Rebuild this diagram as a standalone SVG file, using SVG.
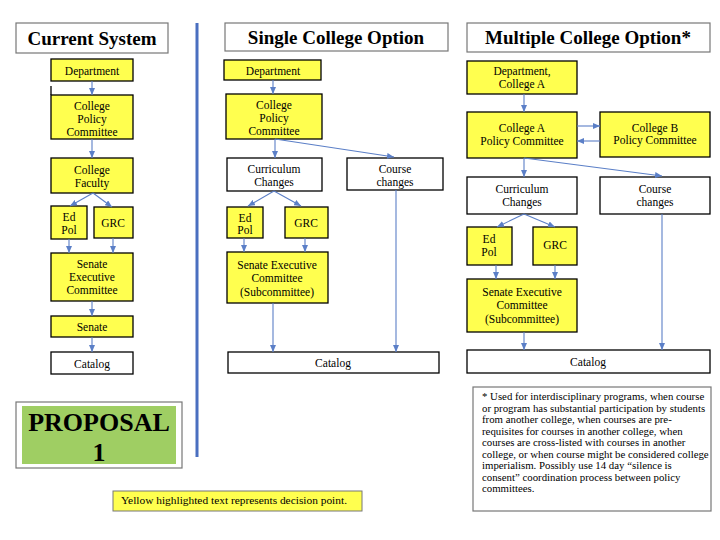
<svg xmlns="http://www.w3.org/2000/svg" width="720" height="540" viewBox="0 0 720 540">
<style>
text{font-family:"Liberation Serif","Times New Roman",serif;fill:#000}
.t{font-size:11.5px;text-anchor:middle}
.h{font-size:19px;font-weight:bold;text-anchor:middle}
.y{fill:#FFFF4F;stroke:#000;stroke-width:1.3}
.w{fill:#fff;stroke:#000;stroke-width:1.3}
.hb{fill:#fff;stroke:#777;stroke-width:1.2}
.c{stroke:#5B7FC7;stroke-width:1.1;fill:none;marker-end:url(#ah)}
.fn{font-size:10.8px}
</style>
<defs>
<marker id="ah" markerWidth="7" markerHeight="6" refX="7" refY="3" orient="auto" markerUnits="userSpaceOnUse">
<path d="M0,0 L7,3 L0,6 z" fill="#5B7FC7"/>
</marker>
<clipPath id="cp1"><rect x="51" y="95" width="82" height="44"/></clipPath>
<clipPath id="cp2"><rect x="226" y="94" width="96" height="45"/></clipPath>
</defs>
<rect width="720" height="540" fill="#fff"/>

<!-- divider -->
<line x1="197" y1="23" x2="197" y2="457" stroke="#4A6FC0" stroke-width="3"/>

<!-- Titles -->
<g id="title-current"><rect class="hb" x="16" y="23" width="152" height="30"/><text class="h" x="92" y="45">Current System</text></g>
<g id="title-single"><rect class="hb" x="225" y="23" width="223" height="28"/><text class="h" x="336" y="44">Single College Option</text></g>
<g id="title-multiple"><rect class="hb" x="467" y="23" width="243" height="29"/><text class="h" x="588" y="44">Multiple College Option*</text></g>

<!-- Current System -->
<g id="cs-dept"><rect class="y" x="51" y="59" width="82" height="22"/><text class="t" x="92" y="75">Department</text></g>
<g id="cs-cpc"><line x1="51" y1="86" x2="51" y2="95" stroke="#000" stroke-width="1.3"/><rect class="y" x="51" y="95" width="82" height="44"/><g clip-path="url(#cp1)"><text class="t" x="92" y="110">College</text><text class="t" x="92" y="123">Policy</text><text class="t" x="92" y="136">Committee</text></g></g>
<g id="cs-faculty"><rect class="y" x="51" y="158" width="82" height="35"/><text class="t" x="92" y="174">College</text><text class="t" x="92" y="187">Faculty</text></g>
<g id="cs-edpol"><rect class="y" x="51" y="206" width="36" height="33"/><text class="t" x="69" y="221">Ed</text><text class="t" x="69" y="234">Pol</text></g>
<g id="cs-grc"><rect class="y" x="94" y="207" width="39" height="31"/><text class="t" x="113" y="227">GRC</text></g>
<g id="cs-sec"><rect class="y" x="51" y="253" width="82" height="48"/><text class="t" x="92" y="268">Senate</text><text class="t" x="92" y="281">Executive</text><text class="t" x="92" y="294">Committee</text></g>
<g id="cs-senate"><rect class="y" x="51" y="316" width="82" height="21"/><text class="t" x="92" y="331">Senate</text></g>
<g id="cs-catalog"><rect class="w" x="51" y="352" width="82" height="22"/><text class="t" x="92" y="368">Catalog</text></g>

<!-- Single College Option -->
<g id="sc-dept"><rect class="y" x="224" y="60" width="97" height="20"/><text class="t" x="273" y="75">Department</text></g>
<g id="sc-cpc"><rect class="y" x="226" y="94" width="96" height="45"/><g clip-path="url(#cp2)"><text class="t" x="274" y="109">College</text><text class="t" x="274" y="122">Policy</text><text class="t" x="274" y="135">Committee</text></g></g>
<g id="sc-curr"><rect class="w" x="227" y="158" width="95" height="33"/><text class="t" x="274" y="173">Curriculum</text><text class="t" x="274" y="186">Changes</text></g>
<g id="sc-course"><rect class="w" x="347" y="158" width="96" height="32"/><text class="t" x="395" y="173">Course</text><text class="t" x="395" y="186">changes</text></g>
<g id="sc-edpol"><rect class="y" x="227" y="207" width="36" height="31"/><text class="t" x="245" y="222">Ed</text><text class="t" x="245" y="234">Pol</text></g>
<g id="sc-grc"><rect class="y" x="285" y="207" width="43" height="31"/><text class="t" x="306" y="227">GRC</text></g>
<g id="sc-sec"><rect class="y" x="227" y="252" width="101" height="51"/><text class="t" x="277" y="269">Senate Executive</text><text class="t" x="277" y="282">Committee</text><text class="t" x="277" y="296">(Subcommittee)</text></g>
<g id="sc-catalog"><rect class="w" x="228" y="352" width="211" height="21"/><text class="t" x="333" y="367">Catalog</text></g>

<!-- Multiple College Option -->
<g id="mc-dept"><rect class="y" x="467" y="61" width="110" height="33"/><text class="t" x="522" y="75">Department,</text><text class="t" x="522" y="88">College A</text></g>
<g id="mc-cpca"><rect class="y" x="467" y="112" width="110" height="46"/><text class="t" x="522" y="132">College A</text><text class="t" x="522" y="145">Policy Committee</text></g>
<g id="mc-cpcb"><rect class="y" x="600" y="112" width="110" height="45"/><text class="t" x="655" y="132">College B</text><text class="t" x="655" y="144">Policy Committee</text></g>
<g id="mc-curr"><rect class="w" x="467" y="177" width="110" height="37"/><text class="t" x="522" y="193">Curriculum</text><text class="t" x="522" y="206">Changes</text></g>
<g id="mc-course"><rect class="w" x="600" y="177" width="110" height="37"/><text class="t" x="655" y="193">Course</text><text class="t" x="655" y="206">changes</text></g>
<g id="mc-edpol"><rect class="y" x="467" y="227" width="45" height="38"/><text class="t" x="489" y="243">Ed</text><text class="t" x="489" y="256">Pol</text></g>
<g id="mc-grc"><rect class="y" x="533" y="227" width="44" height="38"/><text class="t" x="555" y="249">GRC</text></g>
<g id="mc-sec"><rect class="y" x="467" y="279" width="110" height="53"/><text class="t" x="522" y="296">Senate Executive</text><text class="t" x="522" y="309">Committee</text><text class="t" x="522" y="323">(Subcommittee)</text></g>
<g id="mc-catalog"><rect class="w" x="467" y="350" width="243" height="23"/><text class="t" x="588" y="366">Catalog</text></g>

<!-- Connectors -->
<g id="connectors">
<line class="c" x1="92" y1="81" x2="92" y2="95"/>
<line class="c" x1="92" y1="139" x2="92" y2="158"/>
<line class="c" x1="93" y1="193" x2="70" y2="206"/>
<line class="c" x1="93" y1="193" x2="112" y2="207"/>
<line class="c" x1="69" y1="239" x2="69" y2="253"/>
<line class="c" x1="113" y1="238" x2="113" y2="253"/>
<line class="c" x1="92" y1="301" x2="92" y2="316"/>
<line class="c" x1="92" y1="337" x2="92" y2="352"/>

<line class="c" x1="273" y1="80" x2="273" y2="94"/>
<line class="c" x1="275" y1="139" x2="275" y2="158"/>
<line class="c" x1="275" y1="139" x2="394" y2="157"/>
<line class="c" x1="274" y1="191" x2="248" y2="206"/>
<line class="c" x1="274" y1="191" x2="301" y2="206"/>
<line class="c" x1="244" y1="238" x2="244" y2="252"/>
<line class="c" x1="305" y1="238" x2="305" y2="252"/>
<line class="c" x1="273" y1="303" x2="273" y2="352"/>
<line class="c" x1="396" y1="190" x2="396" y2="352"/>

<line class="c" x1="524" y1="94" x2="524" y2="112"/>
<line class="c" x1="577" y1="126" x2="600" y2="126"/>
<line class="c" x1="600" y1="141" x2="577" y2="141"/>
<line class="c" x1="524" y1="158" x2="524" y2="177"/>
<line class="c" x1="524" y1="158" x2="662" y2="176"/>
<line class="c" x1="524" y1="214" x2="497" y2="227"/>
<line class="c" x1="524" y1="214" x2="555" y2="227"/>
<line class="c" x1="496" y1="265" x2="496" y2="279"/>
<line class="c" x1="555" y1="265" x2="555" y2="279"/>
<line class="c" x1="524" y1="332" x2="524" y2="350"/>
<line class="c" x1="662" y1="214" x2="662" y2="350"/>
</g>

<!-- Proposal -->
<g id="proposal"><rect x="16" y="402" width="166" height="66" fill="#fff" stroke="#777" stroke-width="1.2"/><rect x="22" y="406" width="154" height="58" fill="#9FCE63"/><text x="99" y="431" style="font-size:26px;font-weight:bold;text-anchor:middle">PROPOSAL</text><text x="99" y="461" style="font-size:26px;font-weight:bold;text-anchor:middle">1</text></g>

<!-- Legend -->
<g id="legend"><rect x="113" y="491" width="249" height="20" fill="#FFFF4F" stroke="#777" stroke-width="1"/><text x="121" y="504" style="font-size:11.4px">Yellow highlighted text represents decision point.</text></g>

<!-- Footnote -->
<g id="footnote"><rect x="473" y="387" width="238" height="124" fill="#fff" stroke="#777" stroke-width="1.2"/>
<text class="fn" x="482" y="400">* Used for interdisciplinary programs, when course</text>
<text class="fn" x="482" y="411.6">or program has substantial participation by students</text>
<text class="fn" x="482" y="423.2">from another college, when courses are pre-</text>
<text class="fn" x="482" y="434.6">requisites for courses in another college, when</text>
<text class="fn" x="482" y="446">courses are cross-listed with courses in another</text>
<text class="fn" x="482" y="457.6">college, or when course might be considered college</text>
<text class="fn" x="482" y="469.2">imperialism. Possibly use 14 day “silence is</text>
<text class="fn" x="482" y="480.7">consent” coordination process between policy</text>
<text class="fn" x="482" y="492.3">committees.</text>
</g>
</svg>
